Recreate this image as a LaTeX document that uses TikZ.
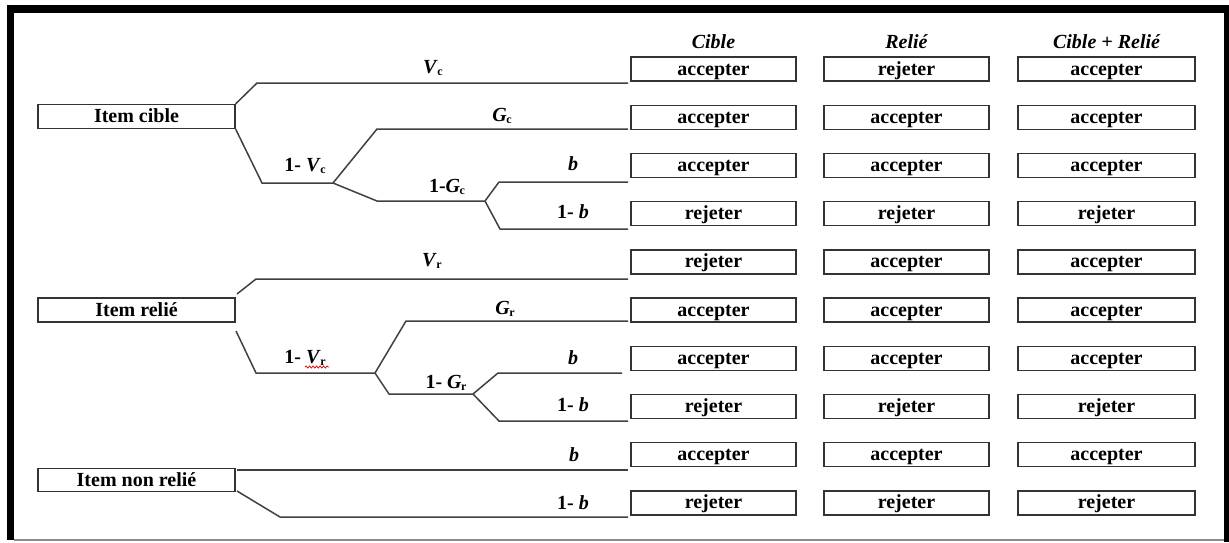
\documentclass[tikz,border=0pt]{standalone}
\usepackage{fontspec}
\setmainfont{Liberation Serif}
\usetikzlibrary{decorations.pathmorphing,calc}
\newcommand\mysub[1]{\kern-0.5pt\raisebox{-2.5pt}{\fontsize{12}{12}\selectfont #1}}
\begin{document}
\begin{tikzpicture}[x=1pt,y=-1pt,
  box/.style={draw=black!80, line width=1.4pt, minimum height=24pt, inner sep=0pt,
    text height=14pt, text depth=2pt, font=\fontsize{20}{20}\selectfont\bfseries},
  obox/.style={box, minimum width=165pt},
  wbox/.style={box, minimum width=177pt},
  ibox/.style={box, minimum width=197pt},
  lab/.style={inner sep=0pt, font=\fontsize{20}{20}\selectfont\bfseries},
  head/.style={inner sep=0pt, font=\fontsize{20}{20}\selectfont\bfseries\itshape},
  branch/.style={draw=black!75, line width=1.5pt, line join=miter},
  frame/.style={fill=black, draw=none}
]
\useasboundingbox (0,0) rectangle (1229,542);
% frame
\fill[frame] (7,5) rectangle (1229,13);
\fill[frame] (7,5) rectangle (14,540);
\fill[frame] (1224,5) rectangle (1229,542);
\draw[black!45, line width=1.2pt] (14,540) -- (1224,540);

% headers
\node[head] (h1) at (713.5,42) {Cible};
\node[head] (h2) at (906.5,42) {Relié};
\node[head] (h3) at (1106.5,42) {Cible + Relié};

% outcome boxes
\foreach \a/\b/\c [count=\i] in {accepter/rejeter/accepter, accepter/accepter/accepter,
  accepter/accepter/accepter, rejeter/rejeter/rejeter, rejeter/accepter/accepter,
  accepter/accepter/accepter, accepter/accepter/accepter, rejeter/rejeter/rejeter,
  accepter/accepter/accepter, rejeter/rejeter/rejeter}{
  \pgfmathsetmacro\yy{69+48.2*(\i-1)}
  \node[obox] (oa\i) at (713.5,\yy) {\a};
  \node[obox] (ob\i) at (906.5,\yy) {\b};
  \node[wbox] (oc\i) at (1106.5,\yy) {\c};
}

% item boxes
\node[ibox] (ic) at (136.5,116.5) {Item cible};
\node[ibox] (ir) at (136.5,310) {Item relié};
\node[ibox, minimum height=23pt] (inr) at (136.5,480) {Item non relié};

% coordinates: Item cible
\coordinate (c1) at (257,83);  \coordinate (c1e) at (628,83);
\coordinate (c2) at (262,183); \coordinate (c2n) at (333,183);
\coordinate (c3) at (377,129); \coordinate (c3e) at (628,129);
\coordinate (c4) at (377,201); \coordinate (c4n) at (485,201);
\coordinate (c5) at (499,182); \coordinate (c5e) at (628,182);
\coordinate (c6) at (500,229); \coordinate (c6e) at (628,229);
% Item relie
\coordinate (r0a) at (237,294); \coordinate (r0b) at (236,331);
\coordinate (r1) at (256,279); \coordinate (r1e) at (628,279);
\coordinate (r2) at (256,373); \coordinate (r2n) at (375,373);
\coordinate (r3) at (406,321); \coordinate (r3e) at (628,321);
\coordinate (r4) at (389,394); \coordinate (r4n) at (473,394);
\coordinate (r5) at (498,373); \coordinate (r5e) at (622,373);
\coordinate (r6) at (499,421); \coordinate (r6e) at (628,421);
% Item non relie
\coordinate (n0a) at (237,470); \coordinate (n1e) at (628,470);
\coordinate (n0b) at (237,491);
\coordinate (n2) at (280,517); \coordinate (n2e) at (628,517);

% branches: Item cible
\draw[branch] (ic.north east) -- (c1) -- (c1e);
\draw[branch] (ic.south east) -- (c2) -- (c2n);
\draw[branch] (c2n) -- (c3) -- (c3e);
\draw[branch] (c2n) -- (c4) -- (c4n);
\draw[branch] (c4n) -- (c5) -- (c5e);
\draw[branch] (c4n) -- (c6) -- (c6e);
% branches: Item relie
\draw[branch] (r0a) -- (r1) -- (r1e);
\draw[branch] (r0b) -- (r2) -- (r2n);
\draw[branch] (r2n) -- (r3) -- (r3e);
\draw[branch] (r2n) -- (r4) -- (r4n);
\draw[branch] (r4n) -- (r5) -- (r5e);
\draw[branch] (r4n) -- (r6) -- (r6e);
% branches: Item non relie
\draw[branch] (n0a) -- (n1e);
\draw[branch] (n0b) -- (n2) -- (n2e);

% labels: Item cible
\node[lab] (lvc) at (433,68) {\textit{V}\mysub{c}};
\node[lab] (lgc) at (502,116) {\textit{G}\mysub{c}};
\node[lab] (l1vc) at (305,166) {1- \textit{V}\mysub{c}};
\node[lab] (l1gc) at (447,187) {1-\textit{G}\mysub{c}};
\node[lab] (lb1) at (573,164) {\textit{b}};
\node[lab] (l1b1) at (573,212) {1- \textit{b}};
% labels: Item relie
\node[lab] (lvr) at (432,261) {\textit{V}\mysub{r}};
\node[lab] (lgr) at (505,309) {\textit{G}\mysub{r}};
\node[lab] (l1vr) at (305,358) {1- \textit{V}\mysub{r}};
\node[lab] (l1gr) at (446,383) {1- \textit{G}\mysub{r}};
\node[lab] (lb2) at (573,358) {\textit{b}};
\node[lab] (l1b2) at (573,405) {1- \textit{b}};
\draw[red!85!black, line width=0.7pt, decorate,
  decoration={snake, segment length=3.5pt, amplitude=1.1pt}] (305,367) -- (329,367);
% labels: Item non relie
\node[lab] (lb3) at (574,455) {\textit{b}};
\node[lab] (l1b3) at (573,503) {1- \textit{b}};
\end{tikzpicture}
\end{document}
